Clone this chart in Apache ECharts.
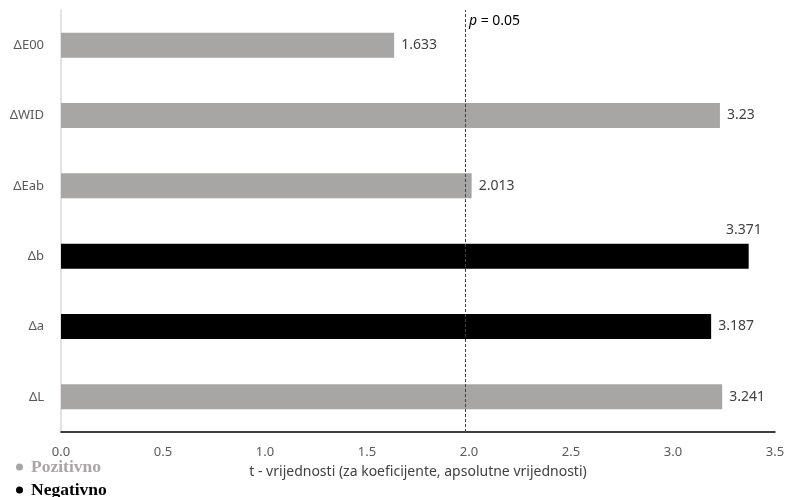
<!DOCTYPE html>
<html><head><meta charset="utf-8">
<script src="https://cdn.jsdelivr.net/npm/echarts@6/dist/echarts.min.js"></script>
<style>html,body{margin:0;padding:0;background:#fff}#c{width:788px;height:497px}</style>
</head><body><div id="c"></div>
<script>
const categories = ['ΔL', 'Δa', 'Δb', 'ΔEab', 'ΔWID', 'ΔE00'];
const tValues = [3.241, 3.187, 3.371, 2.013, 3.23, 1.633];
const signs = ['pos', 'neg', 'neg', 'pos', 'pos', 'pos'];
const xTicks = { min: 0, max: 3.5, interval: 0.5 };
const criticalT = 1.98;
const seriesNames = ['Pozitivno', 'Negativno'];
const colors = { pos: '#a8a5a5', neg: '#000000' };

const chart = echarts.init(document.getElementById('c'));
function mk(sign, name, withLine) {
  const data = tValues.map((v, i) => {
    if (signs[i] !== sign) return '-';
    const item = { value: v };
    if (categories[i] === 'Δb') {
      item.label = { position: ['100%', 0], align: 'right', verticalAlign: 'bottom', offset: [13, -7] };
    }
    return item;
  });
  const s = {
    name: name, type: 'bar', stack: 't', barWidth: 25, data: data,
    itemStyle: { color: colors[sign] },
    label: { show: true, position: 'right', distance: 7, color: '#404040', fontSize: 14, fontFamily: 'Noto Sans',
      formatter: p => String(p.value) }
  };
  if (withLine) {
    s.markLine = {
      symbol: 'none', silent: true,
      lineStyle: { color: '#404040', type: [3, 2], width: 1 },
      label: { show: true, position: 'end', formatter: '{i|p} = 0.05', color: '#000', fontSize: 14, fontFamily: 'Noto Sans',
        align: 'left', offset: [4, 23], rich: { i: { fontStyle: 'italic', fontSize: 14, fontFamily: 'Noto Sans', color: '#000' } } },
      data: [{ xAxis: criticalT }]
    };
  }
  return s;
}
function legendFor(i, sign, top) {
  return {
    left: 16, top: top, itemWidth: 7, itemHeight: 7, icon: 'circle', padding: 0,
    data: [{ name: seriesNames[i], textStyle: { color: colors[sign] } }],
    textStyle: { fontFamily: 'Liberation Serif', fontWeight: 'bold', fontSize: 17.5, lineHeight: 18, padding: [0, 0, 0, 3] }
  };
}
chart.setOption({
  animation: false,
  grid: { left: 61, right: 13, top: 10, bottom: 65 },
  legend: [legendFor(0, 'pos', 458), legendFor(1, 'neg', 481)],
  xAxis: {
    type: 'value', min: xTicks.min, max: xTicks.max, interval: xTicks.interval,
    name: 't - vrijednosti (za koeficijente, apsolutne vrijednosti)', nameLocation: 'middle', nameGap: 33,
    nameTextStyle: { color: '#404040', fontSize: 14, fontFamily: 'Noto Sans' },
    axisLine: { show: true, lineStyle: { color: '#000', width: 1.5 } },
    axisTick: { show: false }, splitLine: { show: false },
    axisLabel: { color: '#595959', fontSize: 13, fontFamily: 'Noto Sans', margin: 14, formatter: v => v.toFixed(1) }
  },
  yAxis: {
    type: 'category', data: categories,
    axisLine: { show: true, lineStyle: { color: '#d9d9d9', width: 1.5 } },
    axisTick: { show: false },
    axisLabel: { color: '#595959', fontSize: 13, fontFamily: 'Noto Sans', margin: 17 }
  },
  series: [mk('pos', seriesNames[0], true), mk('neg', seriesNames[1], false)]
});
</script></body></html>
